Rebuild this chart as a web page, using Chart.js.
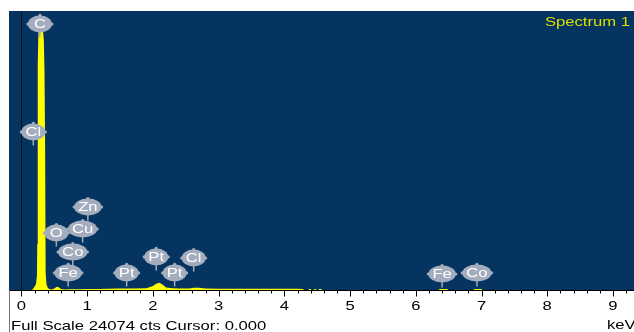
<!DOCTYPE html>
<html lang="en">
<head>
  <meta charset="UTF-8" />
  <title>Spectrum 1</title>
  <style>
    html, body { margin: 0; padding: 0; background: #ffffff; }
    #wrap { width: 634px; height: 332px; }
  </style>
</head>
<body>
  <div id="wrap"><canvas id="eds" width="634" height="332"></canvas></div>

  <script src="https://cdn.jsdelivr.net/npm/chart.js"></script>
  <script>
    // spectrum: energy (keV) and counts
    const energy = [
      -0.19, 0.10, 0.16, 0.18, 0.20, 0.22, 0.235, 0.24, 0.245, 0.25, 0.26, 0.28, 0.30,
      0.32, 0.34, 0.35, 0.36, 0.365, 0.37, 0.38, 0.40, 0.42, 0.46, 0.50, 0.53, 0.56, 0.60,
      0.66, 0.72, 0.80, 0.90, 1.00, 1.10, 1.20, 1.30, 1.50, 1.70, 1.90, 2.00, 2.05,
      2.10, 2.15, 2.20, 2.30, 2.40, 2.55, 2.62, 2.70, 2.80, 3.00, 3.40, 3.80, 4.20,
      4.28, 4.30, 4.36, 4.37, 4.40, 4.41, 4.45, 4.46, 4.48, 4.49, 4.52, 4.53, 4.56,
      4.57, 6.35, 6.36, 6.48, 6.49, 6.88, 6.89, 7.00, 7.01, 9.32
    ];
    const counts = [
      0, 0, 0, 120, 300, 500, 1200, 4000, 13000, 19500, 22800, 23900, 23700,
      23000, 21500, 19000, 12000, 5000, 1500, 500, 200, 80, 40, 120, 260, 250, 90,
      50, 60, 70, 70, 80, 80, 90, 110, 120, 130, 160, 350, 550,
      620, 450, 220, 160, 130, 120, 200, 190, 120, 110, 110, 100, 100,
      90, 0, 0, 80, 80, 0, 0, 80, 80, 0, 0, 80, 80,
      0, 0, 80, 80, 0, 0, 80, 80, 0, 0
    ];

    // element markers: name, line energy (keV), label height (cts)
    const peakNames  = ['C', 'Cl', 'O', 'Fe', 'Co', 'Cu', 'Zn', 'Pt', 'Pt', 'Pt', 'Cl', 'Fe', 'Co'];
    const peakEnergy = [0.28, 0.18, 0.53, 0.71, 0.78, 0.93, 1.01, 1.60, 2.05, 2.33, 2.62, 6.40, 6.93];
    const peakLevel  = [22950, 13640, 4920, 1470, 3280, 5260, 7160, 1470, 2850, 1470, 2760, 1380, 1470];

    const axisLabels = [0, 1, 2, 3, 4, 5, 6, 7, 8, 9];
    const fullScale = 24074;
    const cursorKeV = 0.000;

    const BG = '#04345f';
    const LABEL_BG = '#a4adbd';
    const FONT = '"Liberation Sans", Arial, sans-serif';
    const STRETCH = 1.28;   // text is drawn a bit wide, like the INCA screen

    function wideText(ctx, txt, x, y, align) {
      ctx.save();
      ctx.translate(x, y);
      ctx.scale(STRETCH, 1);
      ctx.textAlign = align;
      ctx.textBaseline = 'middle';
      ctx.fillText(txt, 0, 0);
      ctx.restore();
    }

    const edsPlugin = {
      id: 'eds',
      beforeDraw(chart) {
        const { ctx, chartArea: a } = chart;
        ctx.save();
        ctx.fillStyle = '#ffffff';
        ctx.fillRect(0, 0, chart.width, chart.height);
        ctx.fillStyle = BG;
        ctx.fillRect(a.left, a.top, a.right - a.left, a.bottom - a.top);
        ctx.restore();
      },
      afterDatasetsDraw(chart) {
        const { ctx, chartArea: a } = chart;
        const xs = chart.scales.x, ys = chart.scales.y;
        ctx.save();

        // cursor
        const cx = Math.round(xs.getPixelForValue(cursorKeV)) + 0.5;
        ctx.strokeStyle = '#111111';
        ctx.lineWidth = 1;
        ctx.beginPath();
        ctx.moveTo(cx, a.top);
        ctx.lineTo(cx, a.bottom);
        ctx.stroke();

        // element labels
        ctx.font = '13px ' + FONT;
        peakNames.forEach((name, i) => {
          const x = xs.getPixelForValue(peakEnergy[i]);
          const y = ys.getPixelForValue(peakLevel[i]);
          const w = Math.max(12, ctx.measureText(name).width * STRETCH / 2 + 4);
          const h = 8.5;
          ctx.fillStyle = LABEL_BG;
          ctx.strokeStyle = LABEL_BG;
          ctx.lineWidth = 1.5;
          ctx.beginPath();
          ctx.moveTo(x, y + h - 1);
          ctx.lineTo(x, y + h + 5);
          ctx.stroke();
          ctx.beginPath();
          ctx.ellipse(x, y, w, h, 0, 0, Math.PI * 2);
          ctx.fill();
          [[x - w, y], [x + w, y], [x, y - h]].forEach(([px, py]) => {
            ctx.beginPath();
            ctx.arc(px, py, 1.6, 0, Math.PI * 2);
            ctx.fill();
          });
          ctx.fillStyle = '#ffffff';
          wideText(ctx, name, x, y + 0.5, 'center');
        });

        // title
        ctx.fillStyle = '#dede00';
        ctx.font = '13px ' + FONT;
        wideText(ctx, 'Spectrum 1', 630, 22, 'right');

        // energy axis
        const ay = a.bottom + 0.5;
        ctx.strokeStyle = '#000000';
        ctx.lineWidth = 1;
        ctx.beginPath();
        ctx.moveTo(a.left, ay);
        ctx.lineTo(a.right, ay);
        ctx.stroke();
        for (let k = -1; k <= 46; k++) {
          const v = k / 5;
          const tx = Math.round(xs.getPixelForValue(v)) + 0.5;
          if (tx < a.left || tx > a.right) continue;
          ctx.beginPath();
          ctx.moveTo(tx, ay);
          ctx.lineTo(tx, ay + (k % 5 === 0 ? 6 : 3));
          ctx.stroke();
        }
        ctx.fillStyle = '#000000';
        ctx.font = '13px ' + FONT;
        axisLabels.forEach(v => {
          wideText(ctx, String(v), xs.getPixelForValue(v), 306, 'center');
        });
        wideText(ctx, 'keV', 607, 325, 'left');

        // frame edge below the plot
        ctx.strokeStyle = '#777777';
        ctx.beginPath();
        ctx.moveTo(a.left + 0.5, a.bottom);
        ctx.lineTo(a.left + 0.5, chart.height);
        ctx.stroke();

        // status line
        ctx.fillStyle = '#000000';
        wideText(ctx, 'Full Scale ' + fullScale + ' cts Cursor: ' + cursorKeV.toFixed(3), 11, 326, 'left');

        ctx.restore();
      }
    };

    new Chart(document.getElementById('eds'), {
      type: 'line',
      data: {
        datasets: [{
          label: 'Spectrum 1',
          data: energy.map((e, i) => ({ x: e, y: counts[i] })),
          fill: 'origin',
          backgroundColor: '#ffff00',
          borderColor: 'rgba(0,0,0,0)',
          borderWidth: 0,
          pointRadius: 0,
          tension: 0
        }]
      },
      options: {
        responsive: false,
        animation: false,
        layout: { padding: { left: 9, top: 11, right: 0, bottom: 42 } },
        plugins: { legend: { display: false }, tooltip: { enabled: false } },
        scales: {
          x: { type: 'linear', display: false, min: -0.19, max: 9.32 },
          y: { display: false, min: 0, max: fullScale }
        }
      },
      plugins: [edsPlugin]
    });
  </script>
</body>
</html>
